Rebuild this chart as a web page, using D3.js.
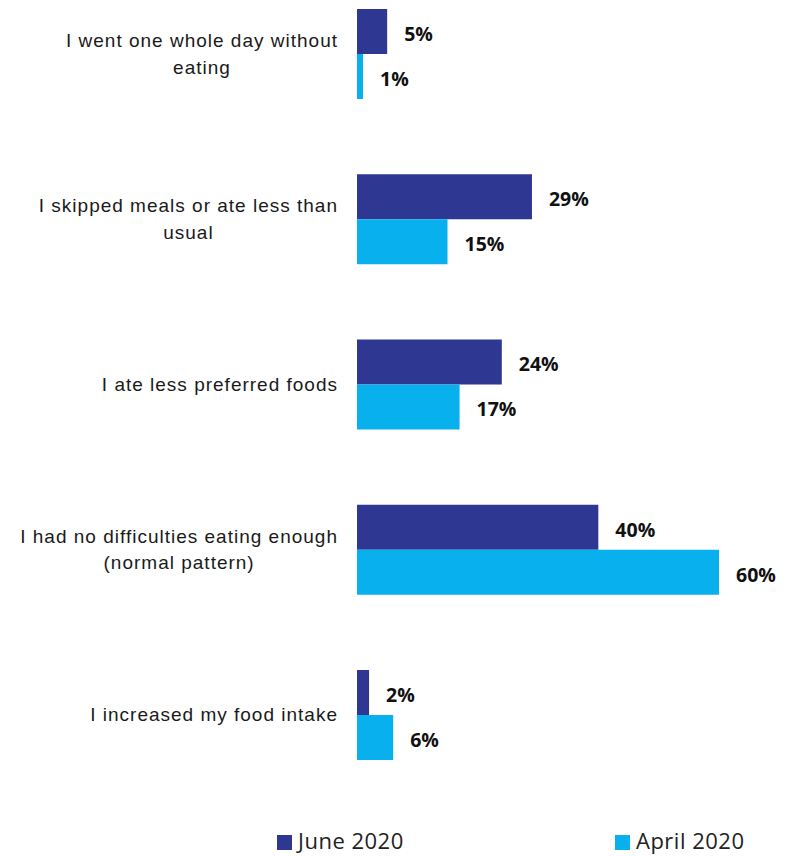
<!DOCTYPE html>
<html>
<head>
<meta charset="utf-8">
<script src="https://cdn.jsdelivr.net/npm/d3@7"></script>
<style>
  html, body { margin: 0; padding: 0; background: #ffffff; }
  svg { display: block; }
</style>
</head>
<body>
<svg id="chart" width="786" height="856"></svg>
<script>
// Food intake responses, by survey round
const categories = [
  ["I went one whole day without", "eating"],
  ["I skipped meals or ate less than", "usual"],
  ["I ate less preferred foods"],
  ["I had no difficulties eating enough", "(normal pattern)"],
  ["I increased my food intake"]
];
const seriesNames = ["June 2020", "April 2020"];
const june2020 = [5, 29, 24, 40, 2];
const april2020 = [1, 15, 17, 60, 6];
const seriesColors = ["#2e3792", "#08b0ee"];

const svg = d3.select("#chart");
const keys = categories.map((c, i) => "c" + i);
const values = [june2020, april2020];

const x = d3.scaleLinear().domain([0, 60]).range([357, 719]);
const y = d3.scaleBand().domain(keys).range([9, 760]).paddingInner(0.4554).paddingOuter(0);
const ySeries = d3.scaleBand().domain(seriesNames).range([0, y.bandwidth()]);

const labelRight = 338;

const groups = svg.selectAll("g.group")
  .data(keys)
  .join("g")
  .attr("class", "group")
  .attr("transform", k => `translate(0,${y(k)})`);

groups.each(function (k, i) {
  const g = d3.select(this);

  // Bars with their value labels
  seriesNames.forEach((s, j) => {
    const v = values[j][i];
    g.append("rect")
      .attr("x", x(0))
      .attr("y", ySeries(s))
      .attr("width", x(v) - x(0))
      .attr("height", ySeries.bandwidth())
      .attr("fill", seriesColors[j]);
    g.append("text")
      .attr("x", x(v) + 17)
      .attr("y", ySeries(s) + ySeries.bandwidth() / 2 + 2)
      .attr("dominant-baseline", "central")
      .attr("font-family", "'Open Sans', sans-serif")
      .attr("font-weight", "bold")
      .attr("font-size", 19.5)
      .attr("fill", "#111")
      .text(v + "%");
  });

  // Category label: lines centred on each other, block right-aligned to the axis
  const lines = categories[i];
  const lh = 26.5;
  const mid = y.bandwidth() / 2;
  const t = g.append("text")
    .attr("text-anchor", "middle")
    .attr("font-family", "'Liberation Sans', Arial, sans-serif")
    .attr("font-size", 19)
    .attr("letter-spacing", "1px")
    .attr("fill", "#1a1a1a");
  const spans = lines.map((line, li) =>
    t.append("tspan")
      .attr("y", mid + (li - (lines.length - 1) / 2) * lh)
      .attr("dominant-baseline", "central")
      .text(line));
  const widest = d3.max(spans, sp => sp.node().getComputedTextLength());
  spans.forEach(sp => sp.attr("x", labelRight - widest / 2));
});

// Legend
const legendX = [277, 615];
const legend = svg.selectAll("g.legend")
  .data(seriesNames)
  .join("g")
  .attr("class", "legend")
  .attr("transform", (d, i) => `translate(${legendX[i]},835)`);
legend.append("rect")
  .attr("width", 15)
  .attr("height", 15)
  .attr("fill", (d, i) => seriesColors[i]);
legend.append("text")
  .attr("x", 21)
  .attr("y", 14)
  .attr("font-family", "'Open Sans', sans-serif")
  .attr("font-size", 22)
  .attr("letter-spacing", "0.5px")
  .attr("fill", "#222")
  .text(d => d);
</script>
</body>
</html>
